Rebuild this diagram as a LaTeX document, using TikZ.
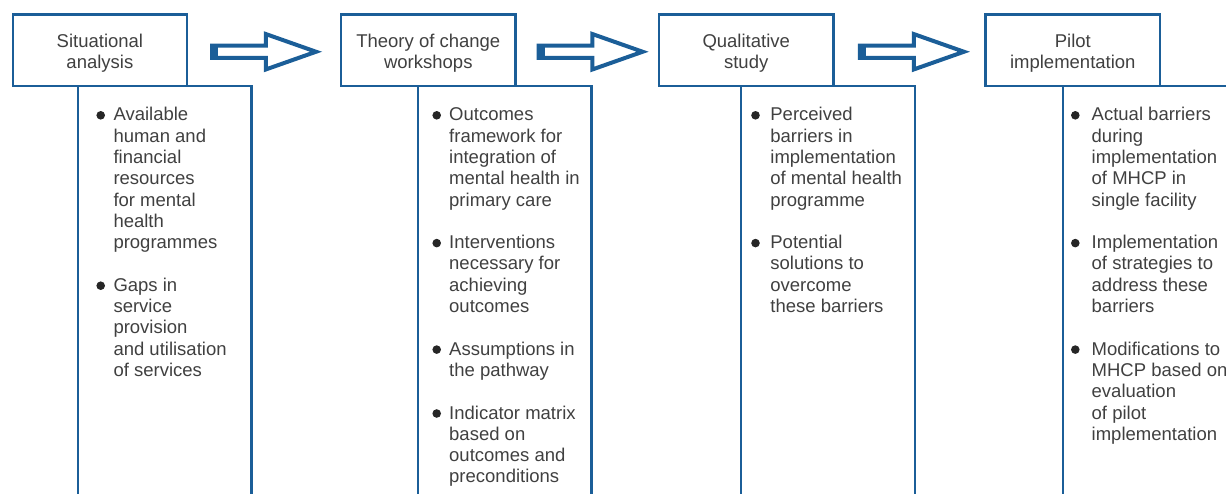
\documentclass[tikz,border=0pt]{standalone}
\usepackage{fontspec}
\setmainfont{Liberation Sans}
\definecolor{frameblue}{HTML}{1B5E98}
\definecolor{txt}{HTML}{404040}
\begin{document}
\begin{tikzpicture}[x=1pt,y=-1pt,
  frame/.style={draw=frameblue, line width=2.4pt, outer sep=0pt, inner sep=0pt},
  headbox/.style={frame, fill=white, minimum width=174.3pt, minimum height=71.7pt},
  lowbox/.style={frame, anchor=north west, minimum width=173.8pt, minimum height=440pt},
  headtext/.style={anchor=base, inner sep=0pt, text=txt, font=\fontsize{18.5}{20.8}\selectfont},
  itemtext/.style={anchor=base west, inner sep=0pt, text=txt, font=\fontsize{18.5}{21.3}\selectfont},
  bulletdot/.style={fill=black!85},
  blockarrow/.pic={
    \draw[frameblue, line width=4pt, line join=miter, fill=white]
      (0,-6.2) -- (53.8,-6.2) -- (53.8,-17.7) -- (104,0) -- (53.8,17.7) -- (53.8,6.2) -- (0,6.2) -- cycle;
    \fill[frameblue] (-2,-8.2) rectangle (6.3,8.2);
  }
]
\useasboundingbox (0,0) rectangle (1226,493);
\clip (0,0) rectangle (1226,493);

% lower (content) boxes
\node[lowbox] (low1) at (77.8,86.2) {};
\node[lowbox] (low2) at (417.8,86.2) {};
\node[lowbox] (low3) at (741.2,86.2) {};
\node[lowbox] (low4) at (1062.8,86.2) {};

% header boxes
\node[headbox] (box1) at (99.9,50.35) {};
\node[headbox] (box2) at (428.3,50.35) {};
\node[headbox] (box3) at (746.2,50.35) {};
\node[headbox] (box4) at (1072.8,50.35) {};

\node[headtext] (h1) at ([yshift=2.8pt]box1.center) {\begin{tabular}[t]{@{}c@{}}Situational\\analysis\end{tabular}};
\node[headtext] (h2) at ([yshift=2.8pt]box2.center) {\begin{tabular}[t]{@{}c@{}}Theory of change\\workshops\end{tabular}};
\node[headtext] (h3) at ([yshift=2.8pt]box3.center) {\begin{tabular}[t]{@{}c@{}}Qualitative\\study\end{tabular}};
\node[headtext] (h4) at ([yshift=2.8pt]box4.center) {\begin{tabular}[t]{@{}c@{}}Pilot\\implementation\end{tabular}};

% block arrows
\pic at ([shift={(25,1.4)}]box1.east) {blockarrow};
\pic at ([shift={(23.2,1.4)}]box2.east) {blockarrow};
\pic at ([shift={(26.6,1.4)}]box3.east) {blockarrow};

% column 1
\node[itemtext] (c1a) at (113.3,120.8) {\begin{tabular}[t]{@{}l@{}}Available\\human and\\financial\\resources\\for mental\\health\\programmes\end{tabular}};
\node[itemtext] (c1b) at (113.3,291.2) {\begin{tabular}[t]{@{}l@{}}Gaps in\\service\\provision\\and utilisation\\of services\end{tabular}};
\fill[bulletdot] (100.7,115.3) circle (4.3pt);
\fill[bulletdot] (100.7,285.7) circle (4.3pt);

% column 2
\node[itemtext] (c2a) at (449,120.8) {\begin{tabular}[t]{@{}l@{}}Outcomes\\framework for\\integration of\\mental health in\\primary care\end{tabular}};
\node[itemtext] (c2b) at (449,248.6) {\begin{tabular}[t]{@{}l@{}}Interventions\\necessary for\\achieving\\outcomes\end{tabular}};
\node[itemtext] (c2c) at (449,355.1) {\begin{tabular}[t]{@{}l@{}}Assumptions in\\the pathway\end{tabular}};
\node[itemtext] (c2d) at (449,419.0) {\begin{tabular}[t]{@{}l@{}}Indicator matrix\\based on\\outcomes and\\preconditions\end{tabular}};
\fill[bulletdot] (436.7,115.3) circle (4.3pt);
\fill[bulletdot] (436.7,243.1) circle (4.3pt);
\fill[bulletdot] (436.7,349.6) circle (4.3pt);
\fill[bulletdot] (436.7,413.5) circle (4.3pt);

% column 3
\node[itemtext] (c3a) at (770.2,120.8) {\begin{tabular}[t]{@{}l@{}}Perceived\\barriers in\\implementation\\of mental health\\programme\end{tabular}};
\node[itemtext] (c3b) at (770.2,248.6) {\begin{tabular}[t]{@{}l@{}}Potential\\solutions to\\overcome\\these barriers\end{tabular}};
\fill[bulletdot] (755.5,115.3) circle (4.3pt);
\fill[bulletdot] (755.5,243.1) circle (4.3pt);

% column 4
\node[itemtext] (c4a) at (1091.5,120.8) {\begin{tabular}[t]{@{}l@{}}Actual barriers\\during\\implementation\\of MHCP in\\single facility\end{tabular}};
\node[itemtext] (c4b) at (1091.5,248.6) {\begin{tabular}[t]{@{}l@{}}Implementation\\of strategies to\\address these\\barriers\end{tabular}};
\node[itemtext] (c4c) at (1091.5,355.1) {\begin{tabular}[t]{@{}l@{}}Modifications to\\MHCP based on\\evaluation\\of pilot\\implementation\end{tabular}};
\fill[bulletdot] (1075.3,115.3) circle (4.3pt);
\fill[bulletdot] (1075.3,243.1) circle (4.3pt);
\fill[bulletdot] (1075.3,349.6) circle (4.3pt);
\end{tikzpicture}
\end{document}
